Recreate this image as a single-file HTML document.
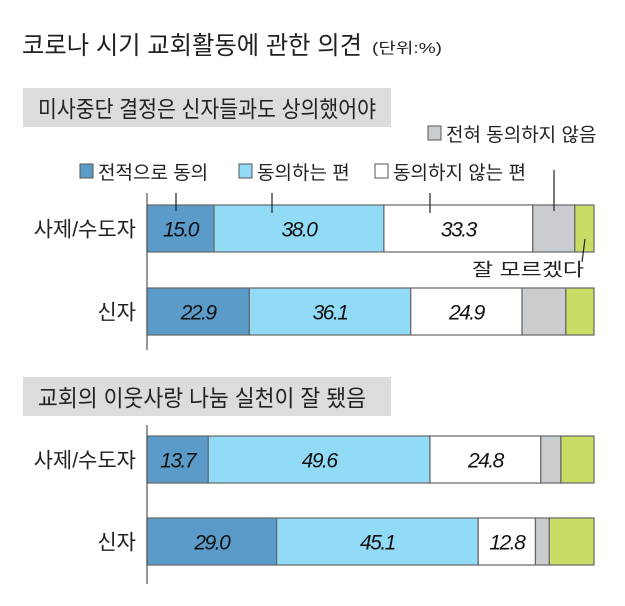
<!DOCTYPE html>
<html><head><meta charset="utf-8"><style>
body{margin:0;background:#fff;}
svg text{font-family:"Liberation Sans","Noto Sans CJK KR",sans-serif;}
</style></head><body>
<svg width="625" height="601" viewBox="0 0 625 601" xmlns="http://www.w3.org/2000/svg" id="chart">
<rect x="0" y="0" width="625" height="601" fill="#fff"/>
<text x="22" y="54" font-size="25" fill="#222" textLength="340" lengthAdjust="spacingAndGlyphs">코로나 시기 교회활동에 관한 의견</text>
<text x="372" y="53" font-size="15" fill="#222" textLength="70" lengthAdjust="spacingAndGlyphs">(단위:%)</text>
<rect x="23" y="88" width="368" height="39" fill="#dcdcdc"/>
<text x="38" y="117" font-size="23" fill="#222" textLength="338" lengthAdjust="spacingAndGlyphs">미사중단 결정은 신자들과도 상의했어야</text>
<rect x="23" y="377" width="368" height="39" fill="#dcdcdc"/>
<text x="38" y="406" font-size="23" fill="#222" textLength="328" lengthAdjust="spacingAndGlyphs">교회의 이웃사랑 나눔 실천이 잘 됐음</text>
<g id="legend"></g>
<g id="bars"></g>
<line x1="147" y1="193" x2="147" y2="350" stroke="#555" stroke-width="1.2"/>
<line x1="147" y1="425" x2="147" y2="584" stroke="#555" stroke-width="1.2"/>
<g stroke="#222" stroke-width="1.2">
<line x1="176" y1="193" x2="176" y2="211"/><line x1="272" y1="193" x2="272" y2="213"/>
<line x1="430" y1="193" x2="430" y2="213"/><line x1="554" y1="170" x2="554" y2="211"/>
<line x1="585" y1="239" x2="582" y2="262"/>
</g>
<text x="472" y="276" font-size="18" fill="#222" textLength="112" lengthAdjust="spacingAndGlyphs">잘 모르겠다</text>
</svg>
<script>
const categories=["사제/수도자","신자","사제/수도자","신자"];
const seriesNames=["전적으로 동의","동의하는 편","동의하지 않는 편","전혀 동의하지 않음","잘 모르겠다"];
const fullyAgree=[15.0,22.9,13.7,29.0];
const agree=[38.0,36.1,49.6,45.1];
const disagree=[33.3,24.9,24.8,12.8];
const stronglyDisagree=[9.4,9.8,4.5,3.1];
const dontKnow=[4.3,6.3,7.4,10.0];
const colors=["#5b9bc9","#92dbf7","#ffffff","#c9cdd0","#c7dd66"];
const NS="http://www.w3.org/2000/svg";
const x0=147,x1=594;
const barTops=[205,288,436,518],barH=47;
function xScale(v){return x0+(x1-x0)*v/100;}
const bars=document.getElementById('bars');
const series=[fullyAgree,agree,disagree,stronglyDisagree,dontKnow];
for(let i=0;i<categories.length;i++){
  const lbl=document.createElementNS(NS,'text');
  
  
  lbl.setAttribute('x',136);lbl.setAttribute('y',barTops[i]+barH/2+8);
  lbl.setAttribute('text-anchor','end');lbl.setAttribute('font-size','21');lbl.setAttribute('fill','#222');
  lbl.textContent=categories[i];bars.appendChild(lbl);
  let total=0;series.forEach(s=>total+=s[i]);
  let acc=0;
  for(let s=0;s<series.length;s++){
    const v=series[s][i]*100/total;
    const r=document.createElementNS(NS,'rect');
    
    
    r.setAttribute('x',xScale(acc));r.setAttribute('y',barTops[i]);
    r.setAttribute('width',xScale(acc+v)-xScale(acc));r.setAttribute('height',barH);
    r.setAttribute('fill',colors[s]);r.setAttribute('stroke','#666');r.setAttribute('stroke-width','1.2');
    bars.appendChild(r);
    if(s<3){
      const t=document.createElementNS(NS,'text');
      
      
      t.setAttribute('x',xScale(acc+v/2));t.setAttribute('y',barTops[i]+barH/2+8);
      t.setAttribute('text-anchor','middle');t.setAttribute('font-size','21');t.setAttribute('font-style','italic');
      t.setAttribute('fill','#111');t.setAttribute('letter-spacing','-1.5');
      t.textContent=series[s][i].toFixed(1);bars.appendChild(t);
    }
    acc+=v;
  }
}
const legend=document.getElementById('legend');
const legPos=[[80,171],[239,171],[375,171],[428,133]];
for(let k=0;k<4;k++){
  const r=document.createElementNS(NS,'rect');
  
  
  r.setAttribute('x',legPos[k][0]);r.setAttribute('y',legPos[k][1]-7);
  r.setAttribute('width',13);r.setAttribute('height',14);
  r.setAttribute('fill',colors[k]);r.setAttribute('stroke','#555');legend.appendChild(r);
  const t=document.createElementNS(NS,'text');
  
  
  t.setAttribute('x',legPos[k][0]+18);t.setAttribute('y',legPos[k][1]+8);
  t.setAttribute('font-size','19');t.setAttribute('fill','#222');
  t.textContent=seriesNames[k];legend.appendChild(t);
}
</script>
</body></html>
